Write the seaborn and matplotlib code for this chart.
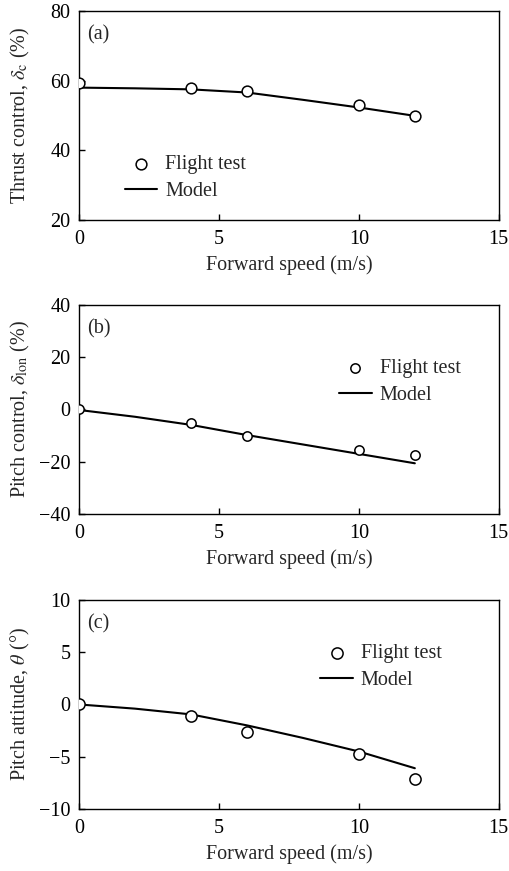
import matplotlib
matplotlib.use("Agg")
import matplotlib.pyplot as plt
import pandas as pd
import seaborn as sns

# --- Dados ---
speed_test = [0, 4, 6, 10, 12]
speed_model = [0, 2, 4, 6, 8, 10, 12]

thrust_test = [59.2, 58.0, 57.1, 53.0, 49.9]
thrust_model = [58.0, 57.8, 57.5, 56.6, 54.5, 52.3, 49.9]

pitch_ctrl_test = [0.0, -5.0, -10.2, -15.7, -17.3]
pitch_ctrl_model = [-0.2, -2.8, -5.9, -9.8, -13.4, -17.0, -20.6]

pitch_att_test = [0.0, -1.1, -2.6, -4.7, -7.1]
pitch_att_model = [0.0, -0.4, -0.95, -2.0, -3.2, -4.5, -6.1]

panel_tags = ["(a)", "(b)", "(c)"]
ylabels = [r"Thrust control, $\delta_{\rm c}$ (%)",
           r"Pitch control, $\delta_{\rm lon}$ (%)",
           r"Pitch attitude, $\theta$ (°)"]
ylims = [(20, 80), (-40, 40), (-10, 10)]
yticks = [[20, 40, 60, 80], [-40, -20, 0, 20, 40], [-10, -5, 0, 5, 10]]
xticks = [0, 5, 10, 15]

sns.set_theme(style="ticks")
plt.rcParams["font.family"] = ["Liberation Serif", "DejaVu Serif"]
plt.rcParams["mathtext.fontset"] = "stix"
plt.rcParams["axes.unicode_minus"] = True

fig = plt.figure(figsize=(5.10, 8.71), dpi=100, facecolor="white")

bottoms = [0.7474, 0.4099, 0.0712]
legend_pos = [(0.11, 0.20), (0.62, 0.63), (0.575, 0.68)]
marker_sizes = [60, 45, 65]
series = [(thrust_test, thrust_model),
          (pitch_ctrl_test, pitch_ctrl_model),
          (pitch_att_test, pitch_att_model)]

FS = 14.5

for i, (test_vals, model_vals) in enumerate(series):
    ax = fig.add_axes([0.155, bottoms[i], 0.823, 0.240])
    df_test = pd.DataFrame({"speed": speed_test, "val": test_vals})
    df_model = pd.DataFrame({"speed": speed_model, "val": model_vals})

    sns.lineplot(data=df_model, x="speed", y="val", ax=ax, color="black",
                 linewidth=1.5, label="Model", zorder=2)
    sns.scatterplot(data=df_test, x="speed", y="val", ax=ax, marker="o",
                    s=marker_sizes[i], facecolor="white", edgecolor="black",
                    linewidth=1.1, label="Flight test", zorder=3)

    ax.set_xlim(0, 15)
    ax.set_ylim(*ylims[i])
    ax.set_xticks(xticks)
    ax.set_yticks(yticks[i])
    ax.set_xlabel("Forward speed (m/s)", fontsize=FS, labelpad=5)
    ax.set_ylabel(ylabels[i], fontsize=FS)
    ax.yaxis.set_label_coords(-0.112, 0.5)
    ax.tick_params(axis="x", pad=7)
    ax.tick_params(axis="y", pad=6)
    ax.tick_params(direction="in", length=4, width=1, labelsize=FS,
                   colors="black", top=False, right=False)
    for sp in ax.spines.values():
        sp.set_visible(True)
        sp.set_linewidth(1.0)
        sp.set_color("black")
    ax.text(0.02, 0.93, panel_tags[i], transform=ax.transAxes,
            fontsize=FS, ha="left", va="top")

    h, l = ax.get_legend_handles_labels()
    order = [l.index("Flight test"), l.index("Model")]
    ax.legend([h[j] for j in order], [l[j] for j in order],
              loc="center left", bbox_to_anchor=legend_pos[i],
              frameon=False, fontsize=FS, borderpad=0, borderaxespad=0,
              handlelength=1.6, handletextpad=0.4, labelspacing=0.4)

plt.savefig("out.png", dpi=100, facecolor="white")
